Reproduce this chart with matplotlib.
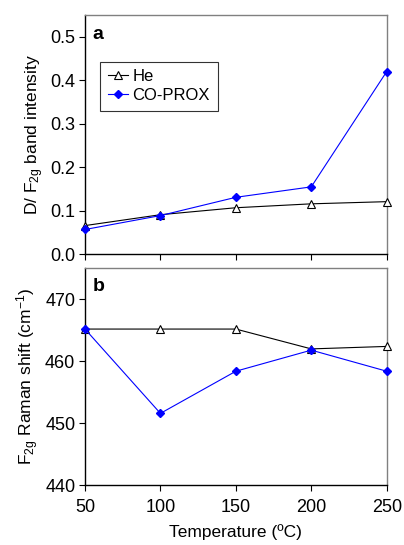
import matplotlib
matplotlib.use("Agg")
import matplotlib.pyplot as plt

plt.rcParams['font.family'] = ['Liberation Sans', 'DejaVu Sans']
plt.rcParams['mathtext.fontset'] = 'custom'
plt.rcParams['mathtext.rm'] = 'Liberation Sans'
plt.rcParams['mathtext.it'] = 'Liberation Sans'

temperature = [50, 100, 150, 200, 250]

# panel a: D / F2g band intensity ratio
he_ratio = [0.066, 0.091, 0.107, 0.116, 0.121]
prox_ratio = [0.057, 0.089, 0.131, 0.155, 0.420]

# panel b: F2g Raman shift (cm-1)
he_shift = [465.2, 465.2, 465.2, 462.0, 462.4]
prox_shift = [465.2, 451.6, 458.4, 461.8, 458.4]

W, H = 404, 545
fig = plt.figure(figsize=(W / 100, H / 100), dpi=100)

left, right = 85 / W, 386.7 / W
ax1 = fig.add_axes([left, 1 - 254.3 / H, right - left, (254.3 - 15) / H])
ax2 = fig.add_axes([left, 1 - 485.3 / H, right - left, (485.3 - 268.3) / H])

fs = 13

def style(ax):
    for s in ("top", "right"):
        ax.spines[s].set_color("#808080")
    for s in ("left", "bottom"):
        ax.spines[s].set_color("black")
    for s in ax.spines.values():
        s.set_linewidth(1.0)
    ax.tick_params(direction="out", length=4, width=0.8, labelsize=fs,
                   colors="black", pad=3)
    ax.tick_params(axis="x", pad=6)
    ax.set_xlim(50, 250)
    ax.set_xticks(temperature)


def draw(ax, he, prox):
    ax.plot(temperature, he, color="black", lw=0.8, marker="^", ms=5.5,
            mfc="white", mec="black", mew=0.8, label="He", clip_on=False, zorder=3)
    ax.plot(temperature, prox, color="blue", lw=0.8, marker="D", ms=4.5,
            mfc="blue", mec="blue", label="CO-PROX", clip_on=False, zorder=4)


draw(ax1, he_ratio, prox_ratio)
style(ax1)
ax1.set_ylim(0, 0.55)
ax1.set_yticks([0.0, 0.1, 0.2, 0.3, 0.4, 0.5])
ax1.set_yticklabels(["0.0", "0.1", "0.2", "0.3", "0.4", "0.5"])
ax1.set_xticklabels([])
ax1.set_ylabel("D/ F$_{2g}$ band intensity", fontsize=12.5, labelpad=3)
ax1.text(0.025, 0.955, "a", transform=ax1.transAxes, fontsize=fs + 1,
         fontweight="bold", va="top", ha="left")
leg = ax1.legend(loc="upper left", bbox_to_anchor=(0.05, 0.805), fontsize=12,
                 frameon=True, fancybox=False, handlelength=1.2, borderpad=0.45,
                 labelspacing=0.25, handletextpad=0.3, borderaxespad=0)
leg.get_frame().set_edgecolor("black")
leg.get_frame().set_linewidth(0.8)

draw(ax2, he_shift, prox_shift)
style(ax2)
ax2.set_ylim(440, 475)
ax2.set_yticks([440, 450, 460, 470])
ax2.set_ylabel("F$_{2g}$ Raman shift (cm$^{-1}$)", fontsize=12.5, labelpad=3)
ax2.set_xlabel("Temperature (ºC)", fontsize=12.5, labelpad=6)
ax2.text(0.025, 0.955, "b", transform=ax2.transAxes, fontsize=fs + 1,
         fontweight="bold", va="top", ha="left")

fig.savefig("out.png", dpi=100)
